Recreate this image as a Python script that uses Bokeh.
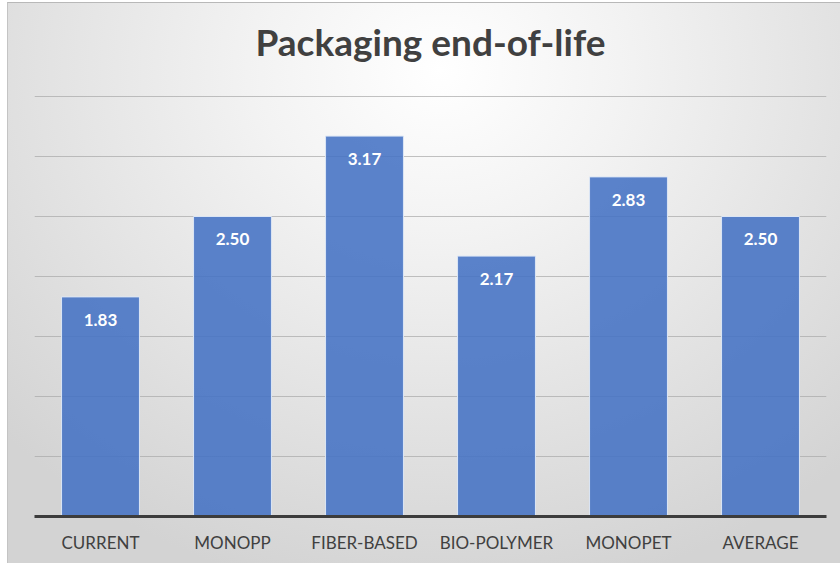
from bokeh.plotting import figure
from bokeh.models import ColumnDataSource, LabelSet, Label, Range1d, FixedTicker
from bokeh.core.properties import value
from bokeh.embed import file_html
from bokeh.resources import INLINE

categories = ["CURRENT", "MONOPP", "FIBER-BASED", "BIO-POLYMER", "MONOPET", "AVERAGE"]
scores = [1.83, 2.50, 3.17, 2.17, 2.83, 2.50]
score_labels = ["%.2f" % v for v in scores]
grid_ticks = [0.5, 1.0, 1.5, 2.0, 2.5, 3.0, 3.5]

source = ColumnDataSource(data=dict(cat=categories, score=scores, label=score_labels))

p = figure(
    x_range=categories,
    y_range=Range1d(0, 4.2083),
    width=833, height=561,
    output_backend="svg",
    toolbar_location=None,
    min_border_left=26, min_border_right=15,
    min_border_top=8, min_border_bottom=48,
)
p.x_range.range_padding = 0
p.styles = {
    "margin-left": "7px",
    "margin-top": "2px",
    "border-top": "1px solid #b8b8b8",
    "border-left": "1px solid #c4c4c4",
    "background": "radial-gradient(ellipse 72% 95% at 52% 12%, #ffffff 0%, #f3f3f3 30%, #d3d3d3 100%)",
}
p.background_fill_color = None
p.border_fill_color = None
p.outline_line_color = None

p.vbar(x="cat", top="score", width=0.59, source=source,
       fill_color="#4472C4", fill_alpha=0.88,
       line_color="#dce6f5", line_width=1)

p.add_layout(LabelSet(x="cat", y="score", text="label", source=source,
                      text_color="white", text_font=value("Lato"), text_font_style="bold",
                      text_font_size="17px", text_align="center",
                      text_baseline="middle", y_offset=-23))

p.add_layout(Label(x=3.0, y=3.96, text="Packaging end-of-life",
                   text_font="Lato", text_font_style="bold", text_font_size="37px",
                   text_color="#404040", text_align="center",
                   text_baseline="alphabetic"))

p.ygrid.ticker = FixedTicker(ticks=grid_ticks)
p.ygrid.grid_line_color = "#a8a8a8"
p.ygrid.grid_line_alpha = 0.7
p.ygrid.grid_line_width = 1
p.xgrid.grid_line_color = None
p.yaxis.visible = False

p.xaxis.axis_line_color = "#3c3c3c"
p.xaxis.axis_line_width = 3
p.xaxis.major_tick_line_color = None
p.xaxis.minor_tick_line_color = None
p.xaxis.major_label_text_font = "Lato"
p.xaxis.major_label_text_font_size = "17px"
p.xaxis.major_label_text_color = "#404040"
p.xaxis.major_label_standoff = 9

open("out.html", "w").write(file_html(p, INLINE))
